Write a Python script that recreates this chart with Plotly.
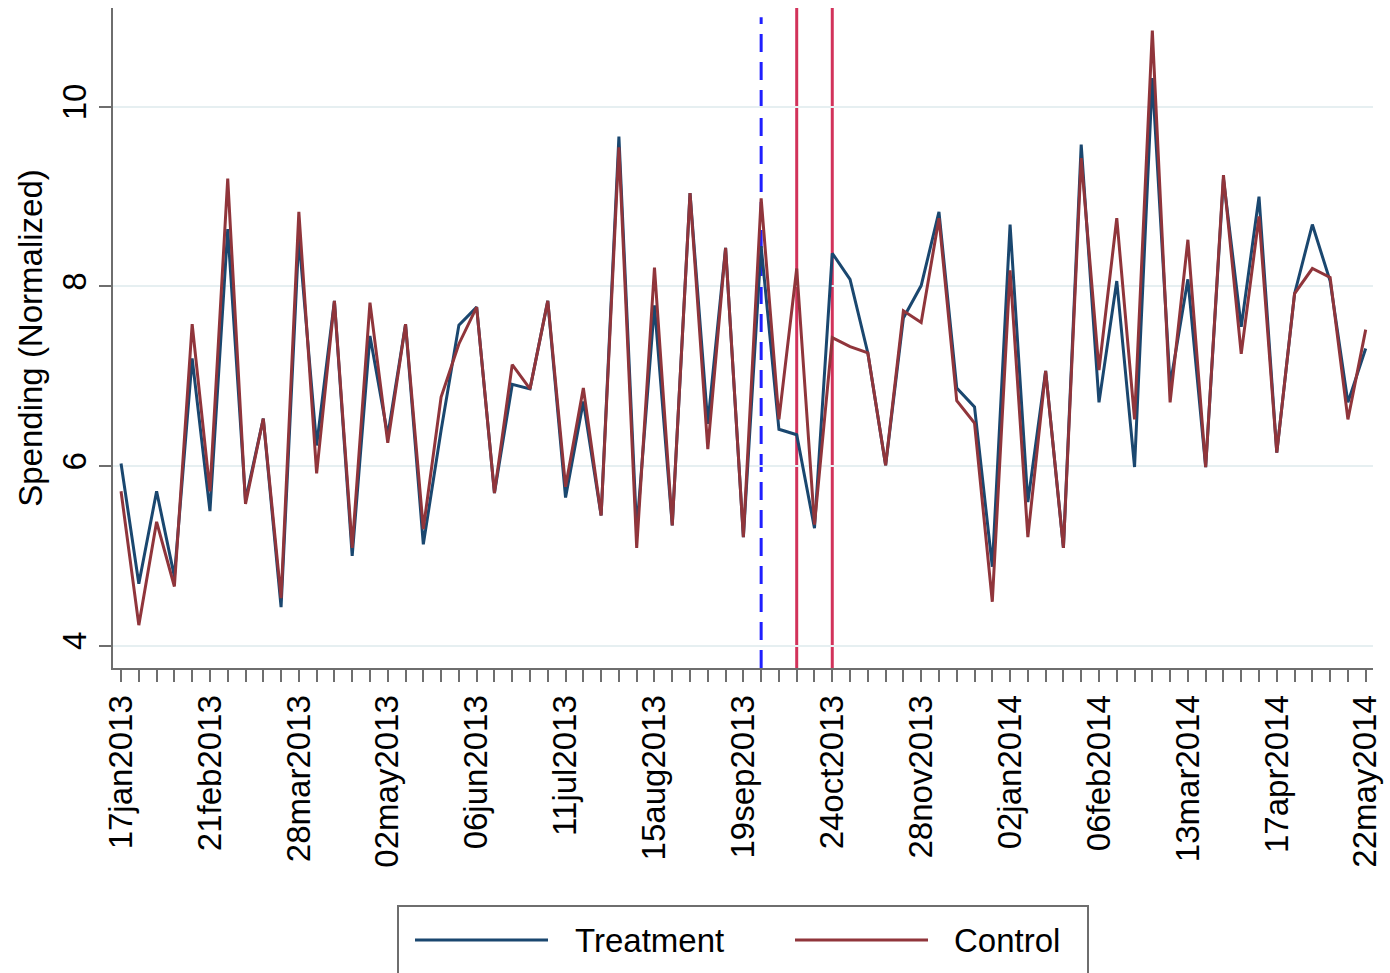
import pandas as pd
import plotly.graph_objects as go

# Weekly observation dates
weeks = pd.date_range("2013-01-17", periods=71, freq="7D")

treatment = [6.03, 4.69, 5.72, 4.77, 7.20, 5.50, 8.64, 5.62, 6.53, 4.43,
             8.55, 6.23, 7.84, 5.00, 7.45, 6.34, 7.58, 5.13, 6.40, 7.57,
             7.77, 5.70, 6.91, 6.86, 7.84, 5.65, 6.72, 5.45, 9.67, 5.28,
             7.79, 5.34, 9.04, 6.47, 8.43, 5.21, 8.45, 6.41, 6.35, 5.31,
             8.37, 8.08, 7.26, 6.01, 7.65, 8.01, 8.83, 6.87, 6.66, 4.88,
             8.69, 5.60, 7.06, 5.09, 9.58, 6.71, 8.06, 5.99, 10.32, 6.90,
             8.08, 5.99, 9.20, 7.55, 9.00, 6.15, 7.92, 8.69, 8.06, 6.71, 7.31]

control = [5.72, 4.23, 5.38, 4.66, 7.58, 5.72, 9.20, 5.58, 6.53, 4.53,
           8.83, 5.92, 7.84, 5.09, 7.82, 6.26, 7.58, 5.30, 6.77, 7.36,
           7.77, 5.70, 7.13, 6.86, 7.84, 5.77, 6.87, 5.45, 9.55, 5.09,
           8.21, 5.34, 9.04, 6.19, 8.43, 5.21, 8.98, 6.52, 8.20, 5.35,
           7.43, 7.33, 7.26, 6.01, 7.73, 7.60, 8.76, 6.73, 6.48, 4.49,
           8.18, 5.21, 7.06, 5.09, 9.43, 7.07, 8.76, 6.52, 10.85, 6.71,
           8.52, 5.99, 9.24, 7.25, 8.78, 6.15, 7.92, 8.20, 8.10, 6.52, 7.52]

tick_labels = ["17jan2013", "21feb2013", "28mar2013", "02may2013", "06jun2013",
               "11jul2013", "15aug2013", "19sep2013", "24oct2013", "28nov2013",
               "02jan2014", "06feb2014", "13mar2014", "17apr2014", "22may2014"]

announcement_date = "2013-09-26"
event_dates = ["2013-10-10", "2013-10-24"]

NAVY = "#1a476f"
MAROON = "#90353b"
FONT = "Liberation Sans, Arial, Helvetica, sans-serif"

# every week gets a tick; every fifth one is labelled
tick_text = [tick_labels[i // 5] if i % 5 == 0 else "" for i in range(len(weeks))]

fig = go.Figure()
fig.add_trace(go.Scatter(x=weeks, y=treatment, mode="lines", name="Treatment",
                         line=dict(color=NAVY, width=3), showlegend=False))
fig.add_trace(go.Scatter(x=weeks, y=control, mode="lines", name="Control",
                         line=dict(color=MAROON, width=3), showlegend=False))

fig.add_shape(type="line", xref="x", yref="paper", x0=announcement_date, x1=announcement_date,
              y0=0, y1=0.986, layer="below",
              line=dict(color="#1f1fff", width=3, dash="18px,10px"))
for d in event_dates:
    fig.add_shape(type="line", xref="x", yref="paper", x0=d, x1=d, y0=0, y1=1,
                  layer="below", line=dict(color="#d2325a", width=3))

# legend box drawn below the plot
fig.add_shape(type="rect", xref="paper", yref="paper",
              x0=(398 - 113) / 1260, x1=(1088 - 113) / 1260,
              y0=-(980 - 668) / 660, y1=-(906 - 668) / 660,
              line=dict(color="#6e6e6e", width=2), fillcolor="white", layer="below")
legend_y = -(940 - 668) / 660
for (x0, x1, c) in [(415, 548, NAVY), (795, 928, MAROON)]:
    fig.add_shape(type="line", xref="paper", yref="paper",
                  x0=(x0 - 113) / 1260, x1=(x1 - 113) / 1260, y0=legend_y, y1=legend_y,
                  line=dict(color=c, width=3))
for (x0, label) in [(573, "Treatment"), (952, "Control")]:
    fig.add_annotation(xref="paper", yref="paper", x=(x0 - 113) / 1260, y=legend_y,
                       text=label, showarrow=False, xanchor="left", yanchor="middle",
                       font=dict(size=33, color="black", family=FONT))

fig.update_layout(
    width=1390, height=973,
    margin=dict(l=113, r=17, t=8, b=305),
    paper_bgcolor="white", plot_bgcolor="white",
    font=dict(family=FONT, size=33, color="black"),
)
fig.update_xaxes(
    range=["2013-01-13 20:00", "2014-05-24 21:00"],
    tickmode="array", tickvals=weeks, ticktext=tick_text,
    tickangle=-90, ticks="outside", ticklen=12, tickwidth=2, tickcolor="#6e6e6e",
    showline=True, linecolor="#6e6e6e", linewidth=2, showgrid=False, zeroline=False,
    tickfont=dict(size=33, color="black"),
)
fig.update_yaxes(
    range=[3.753, 11.10],
    tickvals=[4, 6, 8, 10], tickangle=-90,
    ticks="outside", ticklen=12, tickwidth=2, tickcolor="#6e6e6e",
    showline=True, linecolor="#6e6e6e", linewidth=2,
    showgrid=True, gridcolor="#e6eff1", gridwidth=2, zeroline=False,
    title=dict(text="Spending (Normalized)", font=dict(size=33, color="black"), standoff=3),
    tickfont=dict(size=33, color="black"),
)

fig.write_html("out.html")
